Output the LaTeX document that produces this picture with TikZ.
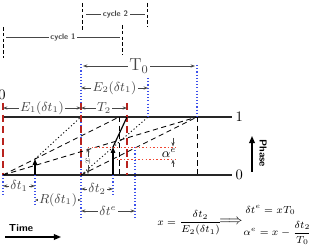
\documentclass[tikz,border=0pt]{standalone}
\usepackage{amsmath}
\usetikzlibrary{arrows.meta}
\definecolor{dred}{RGB}{185,35,30}
\definecolor{lred}{RGB}{240,70,50}
\definecolor{dblue}{RGB}{60,80,235}
\definecolor{dgray}{RGB}{70,70,70}
\begin{document}
\begin{tikzpicture}[x=0.69pt,y=-0.69pt,
  phaseline/.style={line width=0.9pt, black!85},
  reddash/.style={dred, line width=1.2pt, dash pattern=on 5pt off 3pt},
  bluedot/.style={dblue, line width=0.7pt, dash pattern=on 0.8pt off 1.4pt},
  ramp/.style={black, line width=0.6pt, dash pattern=on 3.5pt off 2.5pt},
  dotramp/.style={black, line width=0.6pt, dash pattern=on 0.8pt off 1.6pt},
  redh/.style={lred, line width=0.6pt, dash pattern=on 1pt off 1.5pt},
  dim/.style={dgray, line width=0.4pt, {Stealth[length=3pt,width=2.2pt]}-{Stealth[length=3pt,width=2.2pt]}},
  sdim/.style={dgray, line width=0.4pt, -{Stealth[length=3pt,width=2.2pt]}},
  upar/.style={black, line width=0.8pt, -{Triangle[length=4pt,width=3pt]}},
  bigar/.style={black, line width=1pt, -{Triangle[length=5pt,width=4pt]}},
  lbl/.style={font=\small, fill=white, inner sep=1pt},
  cyc/.style={font=\sffamily\bfseries\fontsize{5.5}{6}\selectfont, fill=white, inner sep=1pt},
  cycv/.style={black, line width=0.6pt, dash pattern=on 2.5pt off 1.5pt},
  cych/.style={dgray, line width=0.5pt},
  axlbl/.style={font=\sffamily\bfseries\scriptsize},
  eqn/.style={anchor=west, inner sep=0pt, font=\fontsize{7}{9}\selectfont}]
\useasboundingbox (0,0) rectangle (309,247);

% ---------- cycle brackets
\coordinate (c2a) at (82,3);   \coordinate (c2b) at (82,30);
\coordinate (c2c) at (147,3);  \coordinate (c2d) at (147,27);
\coordinate (c2l) at (86,14);  \coordinate (c2r) at (145,14);
\draw[cycv] (c2a) -- (c2b);
\draw[cycv] (c2c) -- (c2d);
\draw[cych] (c2l) -- node[cyc] (cyc2) {cycle 2} (c2r);
\coordinate (c1a) at (3,27);   \coordinate (c1b) at (3,58);
\coordinate (c1c) at (122,25); \coordinate (c1d) at (122,55);
\coordinate (c1l) at (6,37);   \coordinate (c1r) at (120,37);
\draw[cycv] (c1a) -- (c1b);
\draw[cycv] (c1c) -- (c1d);
\draw[cych] (c1l) -- node[cyc] (cyc1) {cycle 1} (c1r);

% ---------- phase axes
\coordinate (topL) at (3,117);  \coordinate (topR) at (232,117);
\coordinate (botL) at (3,175);  \coordinate (botR) at (232,175);
\draw[phaseline] (topL) -- (topR);
\draw[phaseline] (botL) -- (botR);
\node[anchor=west, inner sep=1pt] (one) at (234,117) {1};
\node[anchor=west, inner sep=1pt] (zero) at (234,175) {0};
\node (zerotop) at (2,95) {0};

% ---------- key time coordinates
\coordinate (e1b) at (81,175);  \coordinate (e1t) at (81,117);
\coordinate (d1b) at (35,175);  \coordinate (d1p) at (35,159);
\coordinate (d2b) at (113,175); \coordinate (d2p) at (113,147);
\coordinate (t2t) at (127,117);
\coordinate (e2t) at (148,117);
\coordinate (ta)  at (119,117); \coordinate (tab) at (119,175);
\coordinate (tb)  at (197,117); \coordinate (tbb) at (197,175);

% ---------- blue dotted verticals
\coordinate (b1t) at (81,64);   \coordinate (b1b) at (81,220);
\coordinate (b2t) at (148,78);
\coordinate (b3t) at (197,65);
\coordinate (b4t) at (135,147); \coordinate (b4b) at (135,220);
\coordinate (b5b) at (35,205);
\coordinate (b6b) at (3,195);
\coordinate (b7b) at (113,195);
\draw[bluedot] (b1t) -- (b1b);
\draw[bluedot] (b2t) -- (e2t);
\draw[bluedot] (b3t) -- (tb);
\draw[bluedot] (b4t) -- (b4b);
\draw[bluedot] (d1b) -- (b5b);
\draw[bluedot] (botL) -- (b6b);
\draw[bluedot] (d2b) -- (b7b);

% ---------- red dashed verticals
\coordinate (r0t) at (3,103);  \coordinate (r1t) at (81,103);
\coordinate (r2t) at (127,103); \coordinate (r2b) at (127,175);
\draw[reddash] (r0t) -- (botL);
\draw[reddash] (r1t) -- (e1b);
\draw[reddash] (r2t) -- (r2b);

% ---------- black dashed verticals
\draw[ramp] (ta) -- (tab);
\draw[ramp] (tb) -- (tbb);

% ---------- phase ramps
\draw[ramp] (botL) -- (ta);
\draw[ramp] (botL) -- (tb);
\draw[dotramp] (d1p) -- (e1t);
\draw[ramp] (e1b) -- (tb);
\draw[dotramp] (e1b) -- (e2t);
\draw[black, line width=0.8pt] (d2p) -- (t2t);

% ---------- red dotted levels
\coordinate (hx1) at (88,147);  \coordinate (hx2) at (177,147);
\coordinate (hy1) at (113,159); \coordinate (hy2) at (177,159);
\draw[redh] (hx1) -- (hx2);
\draw[redh] (hy1) -- (hy2);

% ---------- upward arrows
\draw[upar] (d1b) -- (d1p);
\draw[upar] (d2b) -- (d2p);

% ---------- x marker
\coordinate (xa) at (88,174); \coordinate (xb) at (88,148);
\draw[dim] (xa) -- node[rotate=90, font=\scriptsize, fill=white, inner sep=0.5pt] (xl) {$x$} (xb);

% ---------- alpha^e marker
\coordinate (aa1) at (173,138); \coordinate (aa2) at (173,146.5);
\coordinate (ab1) at (173,167); \coordinate (ab2) at (173,159.5);
\draw[sdim] (aa1) -- (aa2);
\draw[sdim] (ab1) -- (ab2);
\node[font=\small, inner sep=0pt] (al) at (169,153) {$\alpha^e$};

% ---------- dimension arrows (top)
\coordinate (T0a) at (83,66);  \coordinate (T0b) at (195,66);
\draw[dim] (T0a) -- node[lbl, font=\large] (T0l) {$\mathrm{T}_0$} (T0b);
\coordinate (E2a) at (81,88);  \coordinate (E2b) at (148,88);
\draw[dim] (E2a) -- node[lbl] (E2l) {$E_2(\delta t_1)$} (E2b);
\coordinate (E1a) at (3,108);  \coordinate (E1b) at (81,108);
\draw[dim] (E1a) -- node[lbl] (E1l) {$E_1(\delta t_1)$} (E1b);
\coordinate (T2a) at (81,108); \coordinate (T2b) at (127,108);
\draw[dim] (T2a) -- node[lbl] (T2l) {$T_2$} (T2b);

% ---------- dimension arrows (bottom)
\coordinate (dt1a) at (3,186);  \coordinate (dt1b) at (35,186);
\draw[dim] (dt1a) -- node[lbl] (dt1l) {$\delta t_1$} (dt1b);
\coordinate (Ra) at (35,200);   \coordinate (Rb) at (81,200);
\draw[dim] (Ra) -- node[lbl] (Rl) {$R(\delta t_1)$} (Rb);
\coordinate (dt2a) at (81,189); \coordinate (dt2b) at (113,189);
\draw[dim] (dt2a) -- node[lbl] (dt2l) {$\delta t_2$} (dt2b);
\coordinate (dtea) at (81,211); \coordinate (dteb) at (135,211);
\draw[dim] (dtea) -- node[lbl] (dtel) {$\delta t^e$} (dteb);

% ---------- axes labels
\node[axlbl] (time) at (21,228) {Time};
\coordinate (tma) at (5,237); \coordinate (tmb) at (61,237);
\draw[bigar] (tma) -- (tmb);
\node[axlbl, rotate=-90] (phase) at (263,153) {Phase};
\coordinate (pha) at (252,172); \coordinate (phb) at (252,136);
\draw[bigar] (pha) -- (phb);

% ---------- equations
\node[eqn] (eqx) at (157,223) {$x=\dfrac{\delta t_2}{E_2(\delta t_1)}$};
\node[inner sep=0pt] (impl) at (231,222) {$\Longrightarrow$};
\node[eqn] (eq1) at (245,210) {$\delta t^e = xT_0$};
\node[eqn] (eq2) at (243,233) {$\alpha^e = x-\dfrac{\delta t_2}{T_0}$};
\end{tikzpicture}
\end{document}
